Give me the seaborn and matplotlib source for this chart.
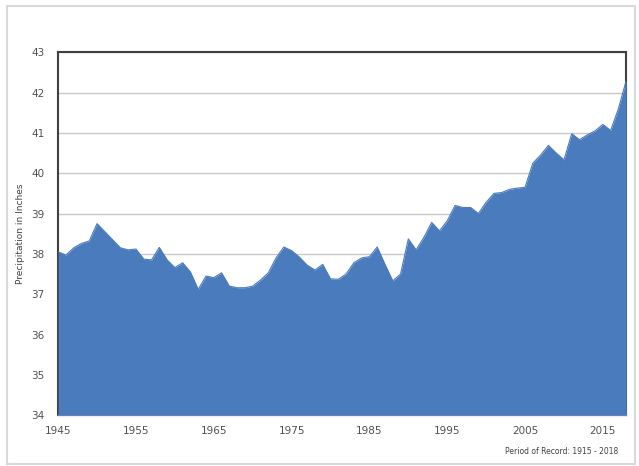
import seaborn as sns
import matplotlib.pyplot as plt
import pandas as pd
from matplotlib.patches import Rectangle

years = list(range(1945, 2019))
precip = [38.05, 37.97, 38.15, 38.26, 38.32, 38.75, 38.55, 38.35, 38.15, 38.10,
          38.12, 37.87, 37.85, 38.16, 37.85, 37.66, 37.78, 37.55, 37.12, 37.45,
          37.41, 37.53, 37.20, 37.16, 37.16, 37.20, 37.35, 37.53, 37.90, 38.17,
          38.08, 37.92, 37.72, 37.60, 37.74, 37.38, 37.37, 37.50, 37.78, 37.90,
          37.93, 38.17, 37.74, 37.33, 37.50, 38.37, 38.10, 38.41, 38.78, 38.57,
          38.82, 39.20, 39.15, 39.15, 39.00, 39.28, 39.50, 39.52, 39.60, 39.63,
          39.65, 40.25, 40.45, 40.69, 40.50, 40.33, 40.98, 40.83, 40.95, 41.05,
          41.21, 41.06, 41.60, 42.30]
xticks = [1945, 1955, 1965, 1975, 1985, 1995, 2005, 2015]
yticks = [34, 35, 36, 37, 38, 39, 40, 41, 42, 43]
note = "Period of Record: 1915 - 2018"

df = pd.DataFrame({"year": years, "precip": precip})

sns.set_style("white")
fig = plt.figure(figsize=(6.39, 4.66), dpi=100)
ax = fig.add_axes([0.091, 0.109, 0.889, 0.779])

blue = "#4a7bbd"
# fill sits above the spines so the right edge is hidden under it, like the original
ax.fill_between(df["year"], 34, df["precip"], color=blue, lw=0, zorder=3)
sns.lineplot(data=df, x="year", y="precip", ax=ax, color=blue, lw=0.8, zorder=3.1)

ax.set_xlim(1945, 2018)
ax.set_ylim(34, 43)
ax.set_yticks(yticks)
ax.set_xticks(xticks)
ax.set_xticks(range(1950, 2019, 5), minor=True)
ax.grid(axis="y", color="#c8c8c8", lw=1, zorder=1)
ax.tick_params(axis="both", labelsize=7.5, colors="#505050", length=0)
ax.tick_params(axis="x", which="both", length=2, color="#b0b0b0", pad=6)
ax.tick_params(axis="y", pad=10)
ax.set_xlabel("")
ax.set_ylabel("Precipitation in Inches", fontsize=6.5, color="#404040", labelpad=4)

for side in ["top", "left", "right"]:
    ax.spines[side].set_color("#404040")
    ax.spines[side].set_linewidth(1.5)
ax.spines["bottom"].set_color("#a0a0a0")
ax.spines["bottom"].set_linewidth(1)

fig.text(0.968, 0.032, note, fontsize=5.5, color="#404040", ha="right", va="center")
fig.patches.append(Rectangle((0.011, 0.005), 0.983, 0.982, transform=fig.transFigure,
                             fill=False, edgecolor="#d9d9d9", lw=1.5))

fig.savefig("out.png", dpi=100)
